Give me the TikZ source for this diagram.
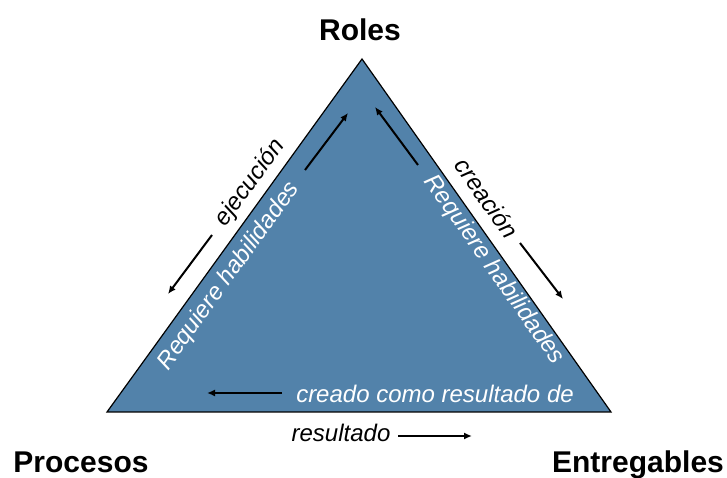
\documentclass[tikz,border=0pt]{standalone}
\usepackage{fontspec}
\setmainfont{Liberation Sans}
\usetikzlibrary{arrows.meta}
\definecolor{steelblue}{HTML}{5282AA}
\tikzset{
  corner/.style={font=\fontsize{30}{36}\selectfont\bfseries, inner sep=0pt, anchor=base},
  onblue/.style={font=\fontsize{24}{28}\selectfont\itshape, text=white, inner sep=0pt},
  offblue/.style={font=\fontsize{24}{28}\selectfont\itshape, text=black, inner sep=0pt},
  flow/.style={line width=2pt, -{Latex[length=8pt,width=7pt]}}
}

\begin{document}
\begin{tikzpicture}[x=1pt,y=1pt]
\useasboundingbox (0,0) rectangle (727,478);
% triangle
\coordinate (P) at (107,66);
\coordinate (R) at (362,419);
\coordinate (E) at (611,66);
\draw[fill=steelblue, line width=1.2pt, line join=miter] (P) -- (R) -- (E) -- cycle;

% corner labels
\node[corner] (roles) at (360,437) {Roles};
\node[corner] (procesos) at (81,5) {Procesos};
\node[corner] (entregables) at (638,5) {Entregables};

% left side
\node[onblue, rotate=54.16] (reqleft) at (229,202) {Requiere habilidades};
\node[offblue, rotate=54.16] (ejec) at (250,295) {ejecución};
\coordinate (l1) at (305,308); \coordinate (l2) at (348,365);
\coordinate (l3) at (212,243); \coordinate (l4) at (168,184);
\draw[flow] (l1) -- (l2);
\draw[flow] (l3) -- (l4);

% right side
\node[onblue, rotate=-54.8] (reqright) at (494,208) {Requiere habilidades};
\node[offblue, rotate=-54.8] (crea) at (487,280) {creación};
\coordinate (r1) at (418,313); \coordinate (r2) at (375,371);
\coordinate (r3) at (520,235); \coordinate (r4) at (563,179);
\draw[flow] (r1) -- (r2);
\draw[flow] (r3) -- (r4);

% bottom side
\node[onblue, anchor=base] (creado) at (435,75) {creado como resultado de};
\node[offblue, anchor=base] (result) at (341,36) {resultado};
\coordinate (b1) at (282,85); \coordinate (b2) at (207,85);
\coordinate (b3) at (398,42); \coordinate (b4) at (472,42);
\draw[flow] (b1) -- (b2);
\draw[flow] (b3) -- (b4);
\end{tikzpicture}
\end{document}
